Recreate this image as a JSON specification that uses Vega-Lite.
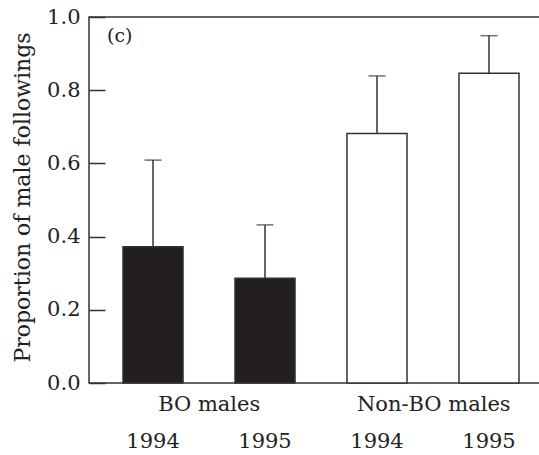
{
  "$schema": "https://vega.github.io/schema/vega-lite/v6.json",
  "autosize": "none",
  "width": 452,
  "height": 366,
  "padding": {"left": 89, "top": 17, "right": 0, "bottom": 72},
  "background": "white",
  "config": {
    "view": {"stroke": "#333333", "strokeWidth": 1.5},
    "font": "DejaVu Serif"
  },
  "title": {"text": "(c)", "anchor": "start", "frame": "group", "dx": 18, "dy": 59, "offset": 0, "fontSize": 19, "fontWeight": "normal", "font": "DejaVu Serif", "color": "#222222", "baseline": "bottom"},
  "data": {"values": [
    {"bar": "BO 1994", "group": "BO males", "year": "1994", "value": 0.372, "upper": 0.609, "type": "BO"},
    {"bar": "BO 1995", "group": "BO males", "year": "1995", "value": 0.286, "upper": 0.432, "type": "BO"},
    {"bar": "Non-BO 1994", "group": "Non-BO males", "year": "1994", "value": 0.682, "upper": 0.839, "type": "Non-BO"},
    {"bar": "Non-BO 1995", "group": "Non-BO males", "year": "1995", "value": 0.846, "upper": 0.949, "type": "Non-BO"}
  ]},
  "layer": [
    {
      "encoding": {
        "x": {"field": "bar", "type": "nominal", "sort": null,
          "scale": {"range": [34, 430], "paddingInner": 0.464, "paddingOuter": 0},
          "axis": {"orient": "bottom", "labelExpr": "split(datum.label, ' ')[1]", "title": null, "domain": false, "ticks": false, "labelAngle": 0, "labelFont": "DejaVu Serif", "labelFontSize": 21, "labelColor": "#222222", "labelPadding": 47}}
      },
      "layer": [
        {
          "mark": {"type": "rule", "color": "#333333", "strokeWidth": 1.5},
          "encoding": {
            "y": {"field": "upper", "type": "quantitative"},
            "y2": {"field": "value"}
          }
        },
        {
          "mark": {"type": "tick", "color": "#333333", "thickness": 1.5, "size": 17},
          "encoding": {
            "y": {"field": "upper", "type": "quantitative"}
          }
        },
        {
          "mark": {"type": "bar", "stroke": "#333333", "strokeWidth": 1.5},
          "encoding": {
            "y": {"field": "value", "type": "quantitative",
              "scale": {"domain": [0, 1], "nice": false, "zero": true},
              "axis": {"values": [0, 0.1, 0.2, 0.3, 0.4, 0.5, 0.6, 0.7, 0.8, 0.9, 1.0],
                "labelExpr": "round(datum.value*10)%2==0 ? format(datum.value, '.1f') : ''",
                "tickSize": {"condition": {"test": "round(datum.value*10)%2==0", "value": -16}, "value": -10},
                "tickColor": "#333333", "tickWidth": 1.5,
                "domain": false, "grid": false,
                "labelFont": "DejaVu Serif", "labelFontSize": 21, "labelColor": "#222222", "labelPadding": 25,
                "title": "Proportion of male followings", "titleFont": "DejaVu Serif", "titleFontSize": 22, "titleFontWeight": "normal", "titleColor": "#222222",
                "titleX": -60, "titleY": 180, "titleBaseline": "alphabetic", "titleAngle": -90}},
            "fill": {"field": "type", "type": "nominal", "scale": {"domain": ["BO", "Non-BO"], "range": ["#231f20", "#ffffff"]}, "legend": null}
          }
        }
      ]
    },
    {
      "mark": {"type": "tick", "opacity": 0},
      "encoding": {
        "x": {"field": "group", "type": "nominal", "sort": null,
          "scale": {"range": [8, 457], "paddingInner": 0, "paddingOuter": 0},
          "axis": {"orient": "bottom", "title": null, "domain": false, "ticks": false, "labelAngle": 0, "labelFont": "DejaVu Serif", "labelFontSize": 21, "labelColor": "#222222", "labelPadding": 10}},
        "y": {"field": "value", "type": "quantitative"}
      }
    }
  ],
  "resolve": {"scale": {"x": "independent"}, "axis": {"x": "independent"}}
}
